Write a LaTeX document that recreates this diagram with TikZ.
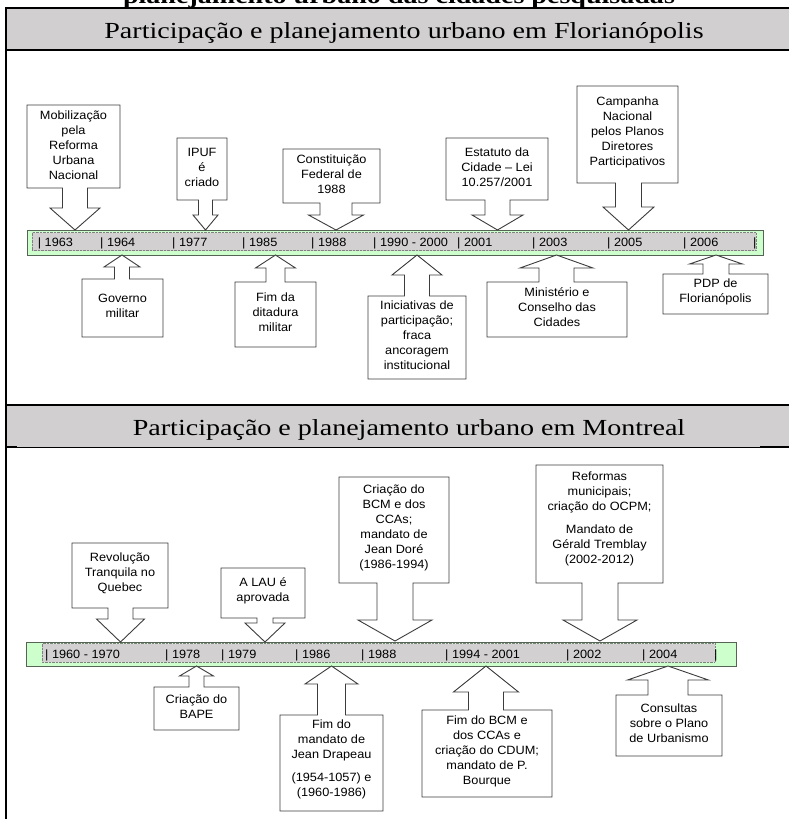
\documentclass[tikz,border=0pt]{standalone}
\usepackage{fontspec}
\newfontfamily\titlefont{Liberation Serif}[FakeStretch=1.22]
\newfontfamily\callfont{Liberation Sans}[FakeStretch=1.06]
\definecolor{headgray}{RGB}{209,207,207}
\definecolor{bargreen}{RGB}{204,255,204}
\definecolor{barline}{RGB}{85,100,85}
\definecolor{stripgray}{RGB}{210,208,208}
\definecolor{callgray}{RGB}{60,60,60}
\tikzset{
  calloutline/.style = {draw=callgray, line width=0.9pt, fill=white},
  calltext/.style = {font=\callfont\fontsize{12}{15}\selectfont, align=center, inner sep=0pt},
  yearlabel/.style = {font=\callfont\fontsize{12}{14}\selectfont, anchor=base west, inner sep=0pt},
  timebar/.style = {fill=bargreen, draw=barline, line width=0.9pt},
  timestrip/.style = {fill=stripgray, draw=gray, line width=0.4pt, dash pattern=on 0.7pt off 0.7pt},
  titletext/.style = {font=\titlefont\fontsize{23}{26}\selectfont, anchor=base, inner sep=0pt}
}
% #1 left, #2 right, #3 far edge, #4 near edge, #5 tip x, #6 tip y, #7 wing y, #8 stem half, #9 wing half
\newcommand{\timecallout}[9]{%
  \draw[calloutline] (#1,#3) -- (#2,#3) -- (#2,#4) -- ({#5+#8},#4) -- ({#5+#8},#7)
    -- ({#5+#9},#7) -- (#5,#6) -- ({#5-#9},#7) -- ({#5-#8},#7) -- ({#5-#8},#4) -- (#1,#4) -- cycle;}

\begin{document}
\begin{tikzpicture}[x=1pt,y=-1pt]
  \useasboundingbox (0,0) rectangle (788,819);
  \node[titletext, font=\titlefont\bfseries\fontsize{23}{26}\selectfont] (caption) at (399,3) {planejamento urbano das cidades pesquisadas};

  % headers
  \fill[headgray] (6,8) rectangle (792,50);
  \fill[headgray] (6,405) rectangle (792,447);
  \draw[line width=2pt] (6,8) -- (792,8);
  \draw[line width=2pt] (6,50) -- (792,50);
  \draw[line width=2pt] (6,405) -- (792,405);
  \draw[line width=0.8pt] (6,447) -- (792,447);
  \draw[line width=2pt] (6,447) -- (17,447) (760,447) -- (792,447);
  \draw[line width=1.6pt] (6,7) -- (6,825);
  \node[titletext] (titleflo) at (404,38.5) {Participação e planejamento urbano em Florianópolis};
  \node[titletext] (titlemtl) at (409,435.5) {Participação e planejamento urbano em Montreal};

  % Florianopolis timeline
  \draw[timebar] (27,230) rectangle (763,255);
  \draw[timestrip] (32,232.5) rectangle (756,250.5);
  \foreach \x/\yr [count=\i] in {37.7/1963, 100/1964, 172/1977, 242/1985, 311/1988,
      373/1990 - 2000, 457/2001, 532/2003, 607/2005, 683/2006, 753/}
    \node[yearlabel] (flo\i) at (\x,246.5) {| \yr};

  \timecallout{27}{120}{105}{188}{75}{230}{208}{12.5}{25}
  \timecallout{177}{227}{138}{200}{205.5}{230}{215}{7}{12.5}
  \timecallout{283}{380}{149}{203}{336}{230}{215}{16}{27.5}
  \timecallout{446}{548}{138}{200}{497.5}{230}{215}{12.5}{25.5}
  \timecallout{577}{678}{86}{183}{628.5}{230}{207}{13}{25.5}
  \timecallout{82}{163}{337}{279}{122}{255}{267}{7.5}{18}
  \timecallout{235}{316}{347}{282}{275.5}{255}{268}{9.5}{20}
  \timecallout{368}{466}{379}{296}{417}{255}{275}{12.5}{25}
  \timecallout{487}{627}{337}{282}{556.5}{255}{268}{17.5}{36.5}
  \timecallout{663}{768}{314}{274}{716}{255}{264}{13}{26.5}

  \node[calltext] (mobil) at (73.5,145) {Mobilização\\pela\\Reforma\\Urbana\\Nacional};
  \node[calltext] (ipuf) at (202,167) {IPUF\\é\\criado};
  \node[calltext] (constit) at (331.5,174) {Constituição\\Federal de\\1988};
  \node[calltext] (estatuto) at (497,167) {Estatuto da\\Cidade – Lei\\10.257/2001};
  \node[calltext] (campanha) at (627.5,132) {Campanha\\Nacional\\pelos Planos\\Diretores\\Participativos};
  \node[calltext] (governo) at (122.5,306) {Governo\\militar};
  \node[calltext] (ditadura) at (275.5,312.5) {Fim da\\ditadura\\militar};
  \node[calltext] (inicia) at (417,335.5) {Iniciativas de\\participação;\\fraca\\ancoragem\\institucional};
  \node[calltext] (minist) at (557,307.5) {Ministério e\\Conselho das\\Cidades};
  \node[calltext] (pdp) at (715.5,292) {PDP de\\Florianópolis};

  % Montreal timeline
  \draw[timebar] (26,642) rectangle (736,666);
  \draw[timestrip] (42,643.5) rectangle (715,662);
  \foreach \x/\yr [count=\i] in {45/1960 - 1970, 165/1978, 221/1979, 295/1986, 361/1988,
      445/1994 - 2001, 566/2002, 642/2004, 714/}
    \node[yearlabel] (mtl\i) at (\x,658) {| \yr};

  \timecallout{72}{168}{543}{608}{120.5}{642}{619}{12.5}{24}
  \timecallout{221}{305}{568}{618}{265}{642}{623}{8}{20}
  \timecallout{339}{449}{477}{583}{395}{641}{620}{18}{37}
  \timecallout{536}{663}{465}{583}{600}{641}{620}{18}{37}
  \timecallout{154}{239}{730}{687}{196.5}{666}{676}{7.5}{17}
  \timecallout{280}{383}{811}{715}{331.5}{666}{684}{14}{26.5}
  \timecallout{422}{552}{797}{710}{486}{666}{692}{17.5}{32.5}
  \timecallout{616}{722}{756}{695}{668}{666}{680}{20}{40.5}

  \node[calltext] (revol) at (120,573.5) {Revolução\\Tranquila no\\Quebec};
  \node[calltext] (lau) at (263,591) {A LAU é\\aprovada};
  \node[calltext] (bcm) at (394,528) {Criação do\\BCM e dos\\CCAs;\\mandato de\\Jean Doré\\(1986-1994)};
  \node[calltext] (reformas) at (599.5,519) {Reformas\\municipais;\\criação do OCPM;\\[8pt]Mandato de\\Gérald Tremblay\\(2002-2012)};
  \node[calltext] (bape) at (196.5,706.5) {Criação do\\BAPE};
  \node[calltext] (drapeau) at (331.5,759) {Fim do\\mandato de\\Jean Drapeau\\[8pt](1954-1057) e\\(1960-1986)};
  \node[calltext] (fimbcm) at (487,751.5) {Fim do BCM e\\dos CCAs e\\criação do CDUM;\\mandato de P.\\Bourque};
  \node[calltext] (consultas) at (669,723.5) {Consultas\\sobre o Plano\\de Urbanismo};
\end{tikzpicture}
\end{document}
